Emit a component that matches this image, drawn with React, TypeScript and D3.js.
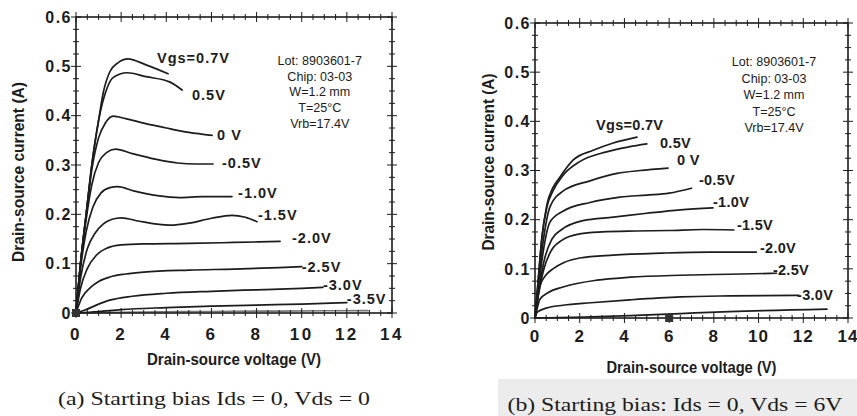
import React from 'react';
import * as d3 from 'd3';

type Pt = [number, number];

const FONT = "'Liberation Sans', Arial, Helvetica, sans-serif";
const SERIF = "'Liberation Serif', 'Times New Roman', serif";
const INK = '#1c1c1c';

// shared axis settings (Vds in V, Ids in A)
const xMajor = [0, 2, 4, 6, 8, 10, 12, 14];
const yMajor = [0, 0.1, 0.2, 0.3, 0.4, 0.5, 0.6];
const yTickLabels = ['0', '0.1', '0.2', '0.3', '0.4', '0.5', '0.6'];
const infoLines = ['Lot: 8903601-7', 'Chip: 03-03', 'W=1.2 mm', 'T=25\u00b0C', 'Vrb=17.4V'];
const curveLabels = ['Vgs=0.7V', '0.5V', '0 V', '-0.5V', '-1.0V', '-1.5V', '-2.0V', '-2.5V', '-3.0V', '-3.5V'];

// (a) starting bias Ids = 0, Vds = 0
const aVgs07: Pt[] = [[0, 0], [0.2, 0.1], [0.45, 0.2], [0.7, 0.3], [1.0, 0.39], [1.2, 0.445], [1.5, 0.489], [1.86, 0.507], [2.3, 0.515], [3.1, 0.503], [4.08, 0.485]];
const aVgs05: Pt[] = [[0, 0], [0.2, 0.1], [0.45, 0.2], [0.7, 0.3], [1.0, 0.39], [1.37, 0.455], [1.64, 0.477], [2.26, 0.487], [3.1, 0.479], [4.17, 0.468], [4.7, 0.452]];
const aVgs0: Pt[] = [[0, 0], [0.2, 0.1], [0.45, 0.2], [0.7, 0.29], [1.0, 0.355], [1.3, 0.385], [1.64, 0.399], [2.2, 0.394], [3.0, 0.385], [4.0, 0.375], [5.0, 0.366], [6.03, 0.36]];
const aVgsM05: Pt[] = [[0, 0], [0.2, 0.1], [0.45, 0.19], [0.7, 0.26], [1.0, 0.305], [1.35, 0.325], [1.75, 0.332], [2.5, 0.323], [3.5, 0.312], [4.5, 0.304], [5.3, 0.302], [6.07, 0.302]];
const aVgsM10: Pt[] = [[0, 0], [0.2, 0.09], [0.45, 0.165], [0.75, 0.215], [1.1, 0.243], [1.5, 0.254], [1.85, 0.256], [2.6, 0.247], [3.6, 0.238], [4.6, 0.234], [5.6, 0.236], [6.91, 0.236]];
const aVgsM15: Pt[] = [[0, 0], [0.2, 0.07], [0.5, 0.13], [0.85, 0.162], [1.2, 0.18], [1.6, 0.19], [2.0, 0.193], [2.8, 0.186], [3.6, 0.18], [4.2, 0.178], [5.0, 0.182], [6.0, 0.192], [6.9, 0.198], [7.5, 0.194], [8.02, 0.185]];
const aVgsM20: Pt[] = [[0, 0], [0.2, 0.05], [0.5, 0.09], [0.9, 0.117], [1.4, 0.132], [2.0, 0.138], [3.0, 0.14], [5.0, 0.141], [7.0, 0.143], [9.04, 0.145]];
const aVgsM25: Pt[] = [[0, 0], [0.25, 0.03], [0.6, 0.05], [1.0, 0.064], [1.5, 0.073], [2.2, 0.079], [3.0, 0.083], [5.0, 0.087], [7.0, 0.089], [9.0, 0.092], [10.0, 0.094]];
const aVgsM30: Pt[] = [[0, 0], [0.4, 0.006], [0.9, 0.016], [1.5, 0.026], [2.5, 0.034], [4.0, 0.04], [6.0, 0.044], [8.0, 0.047], [10.0, 0.05], [10.94, 0.052]];
const aVgsM35: Pt[] = [[0, 0], [1, 0.003], [2, 0.007], [4, 0.011], [6, 0.014], [8, 0.016], [10, 0.018], [12, 0.021]];
const aVgsOff: Pt[] = [[0, 0], [3, 0.002], [6, 0.003], [9, 0.004], [12.94, 0.005]];
const aLabelPos: Pt[] = [[3.59, 0.507], [5.14, 0.432], [6.25, 0.351], [6.47, 0.294], [7.18, 0.233], [8.06, 0.189], [9.57, 0.142], [10.0, 0.083], [10.94, 0.047], [12.0, 0.018]];

// (b) starting bias Ids = 0, Vds = 6V
const bVgs07: Pt[] = [[0, 0], [0.15, 0.08], [0.3, 0.16], [0.53, 0.23], [0.8, 0.265], [1.12, 0.287], [1.7, 0.321], [2.6, 0.341], [3.5, 0.356], [4.56, 0.368]];
const bVgs05: Pt[] = [[0, 0], [0.15, 0.08], [0.3, 0.16], [0.53, 0.225], [0.8, 0.258], [1.25, 0.29], [2.0, 0.318], [3.2, 0.338], [4.2, 0.348], [5.0, 0.354]];
const bVgs0: Pt[] = [[0, 0], [0.15, 0.07], [0.35, 0.15], [0.67, 0.226], [1.25, 0.258], [2.46, 0.279], [3.67, 0.294], [4.7, 0.3], [5.95, 0.305]];
const bVgsM05: Pt[] = [[0, 0], [0.15, 0.06], [0.35, 0.13], [0.67, 0.195], [1.25, 0.217], [2.46, 0.235], [3.8, 0.246], [5.0, 0.25], [6.0, 0.254], [7.0, 0.264]];
const bVgsM10: Pt[] = [[0, 0], [0.15, 0.05], [0.4, 0.115], [0.75, 0.16], [1.2, 0.18], [2.15, 0.198], [3.5, 0.205], [5.0, 0.213], [6.5, 0.22], [7.96, 0.224]];
const bVgsM15: Pt[] = [[0, 0], [0.15, 0.045], [0.4, 0.1], [0.7, 0.135], [1.2, 0.158], [2.0, 0.171], [3.0, 0.175], [4.5, 0.177], [6.0, 0.178], [7.5, 0.18], [8.9, 0.179]];
const bVgsM20: Pt[] = [[0, 0], [0.1, 0.035], [0.22, 0.065], [0.5, 0.088], [0.8, 0.1], [1.3, 0.113], [2.0, 0.122], [3.5, 0.128], [5.7, 0.132], [7.8, 0.134], [9.9, 0.134]];
const bVgsM25: Pt[] = [[0, 0], [0.1, 0.02], [0.22, 0.038], [0.6, 0.052], [1.25, 0.063], [2.77, 0.077], [4.25, 0.083], [6.5, 0.087], [8.7, 0.089], [10.8, 0.091]];
const bVgsM30: Pt[] = [[0, 0], [0.1, 0.012], [0.5, 0.02], [1.25, 0.026], [2.5, 0.031], [4.25, 0.037], [6.5, 0.043], [8.7, 0.045], [11.8, 0.046]];
const bVgsM35: Pt[] = [[0, 0], [2.2, 0.002], [4.25, 0.005], [6.5, 0.009], [8.7, 0.013], [13.06, 0.018]];
const bLabelPos: Pt[] = [[2.73, 0.382], [5.59, 0.346], [6.35, 0.311], [7.33, 0.27], [7.96, 0.226], [9.03, 0.179], [10.06, 0.132], [10.64, 0.087], [11.72, 0.037]];

type PanelProps = {
  l: number; r: number; t: number; b: number;
  curves: Pt[][];
  labelPos: Pt[];
  marker: Pt;
  info: Pt;
  infoGap: number;
  yTitleX: number; yTitleCy: number; yTitleLen: number;
  xTitleY: number; xTitleLen: number;
  labelSpacing: number;
  xLabelSpacing: number;
  xLabelDy: number;
};

function Panel(p: PanelProps) {
  const x = d3.scaleLinear().domain([0, 14]).range([p.l, p.r]);
  const y = d3.scaleLinear().domain([0, 0.6]).range([p.b, p.t]);
  const line = d3.line<Pt>().x(d => x(d[0])).y(d => y(d[1])).curve(d3.curveMonotoneX);

  const xMinor = d3.range(0, 14.001, 0.5);
  const yMinor = d3.range(0, 0.6001, 0.025);
  const isMajorX = (v: number) => Math.abs(v / 2 - Math.round(v / 2)) < 1e-6;
  const isMajorY = (v: number) => Math.abs(v * 10 - Math.round(v * 10)) < 1e-6;

  return (
    <g>
      {/* ticks cross the frame like "+" marks */}
      {xMinor.map(v => {
        const k = isMajorX(v) ? 5 : 3;
        return (
          <g key={'xt' + v} stroke={INK} strokeWidth={1}>
            <line x1={x(v)} x2={x(v)} y1={p.b - k} y2={p.b + k} />
            <line x1={x(v)} x2={x(v)} y1={p.t - k} y2={p.t + k} />
          </g>
        );
      })}
      {yMinor.map(v => {
        const k = isMajorY(v) ? 5 : 3;
        return (
          <g key={'yt' + v} stroke={INK} strokeWidth={1}>
            <line x1={p.l - k} x2={p.l + k} y1={y(v)} y2={y(v)} />
            <line x1={p.r - k} x2={p.r + k} y1={y(v)} y2={y(v)} />
          </g>
        );
      })}
      <rect x={p.l} y={p.t} width={p.r - p.l} height={p.b - p.t} fill="none" stroke={INK} strokeWidth={1.6} />

      {xMajor.map(v => (
        <text key={'xl' + v} x={x(v)} y={p.b + p.xLabelDy} textAnchor="middle" fontFamily={FONT}
          fontWeight="bold" fontSize={17} letterSpacing={p.xLabelSpacing} fill={INK}>{v}</text>
      ))}
      {yMajor.map((v, i) => (
        <text key={'yl' + v} x={p.l - 4} y={y(v)} dy="0.36em" textAnchor="end" fontFamily={FONT}
          fontWeight="bold" fontSize={16} letterSpacing={1.5} fill={INK}>{yTickLabels[i]}</text>
      ))}

      {p.curves.map((c, i) => (
        <path key={'c' + i} d={line(c) || ''} fill="none" stroke={INK} strokeWidth={1.7}
          strokeLinejoin="round" strokeLinecap="round" opacity={i === 10 ? 0.6 : 1} />
      ))}
      {p.labelPos.map((pos, i) => (
        <text key={'lb' + i} x={x(pos[0])} y={y(pos[1])} fontFamily={FONT} fontWeight="bold"
          fontSize={14.5} letterSpacing={p.labelSpacing} fill={INK}>{curveLabels[i]}</text>
      ))}

      <rect x={x(p.marker[0]) - 4} y={y(p.marker[1]) - 4} width={8} height={8} fill="#333" />

      {infoLines.map((s, i) => (
        <text key={'in' + i} transform={`translate(${x(p.info[0])},${y(p.info[1]) + i * p.infoGap}) scale(0.93,1)`}
          textAnchor="middle" fontFamily={FONT} fontSize={13.5} fill={INK}>{s}</text>
      ))}

      <text x={(p.l + p.r) / 2} y={p.xTitleY} textAnchor="middle" fontFamily={FONT}
        fontWeight="bold" fontSize={16} fill={INK} textLength={p.xTitleLen}
        lengthAdjust="spacingAndGlyphs">Drain-source voltage (V)</text>
      <g transform={`translate(${p.yTitleX},${p.yTitleCy}) rotate(-90)`}>
        <text x={-p.yTitleLen / 2} y={0} dy="0.35em" fontFamily={FONT} fontWeight="bold" fontSize={16}
          fill={INK} textLength={p.yTitleLen} lengthAdjust="spacingAndGlyphs">Drain-source current (A)</text>
      </g>
    </g>
  );
}

export default function App() {
  return (
    <svg width={857} height={416} style={{ position: 'absolute', left: 0, top: 0, background: '#fff' }}>
      <rect x={498} y={379} width={359} height={37} fill="#ececec" />
      <Panel l={76} r={392} t={17} b={313}
        curves={[aVgs07, aVgs05, aVgs0, aVgsM05, aVgsM10, aVgsM15, aVgsM20, aVgsM25, aVgsM30, aVgsM35, aVgsOff]}
        labelPos={aLabelPos} marker={[0, 0]} info={[10.8, 0.503]} infoGap={15.8}
        yTitleX={18} yTitleCy={172} yTitleLen={180} xTitleY={365} xTitleLen={174}
        labelSpacing={1} xLabelSpacing={2.5} xLabelDy={27} />
      <Panel l={535} r={848} t={23} b={318}
        curves={[bVgs07, bVgs05, bVgs0, bVgsM05, bVgsM10, bVgsM15, bVgsM20, bVgsM25, bVgsM30, bVgsM35]}
        labelPos={bLabelPos} marker={[6, 0]} info={[10.69, 0.512]} infoGap={16.5}
        yTitleX={488} yTitleCy={162} yTitleLen={177} xTitleY={373} xTitleLen={170}
        labelSpacing={0.3} xLabelSpacing={1} xLabelDy={24} />
      <text x={214} y={405} textAnchor="middle" fontFamily={SERIF} fontSize={19} fill={INK}
        textLength={312} lengthAdjust="spacingAndGlyphs">(a) Starting bias Ids = 0, Vds = 0</text>
      <text x={675} y={411} textAnchor="middle" fontFamily={SERIF} fontSize={19} fill={INK}
        textLength={335} lengthAdjust="spacingAndGlyphs">(b) Starting bias: Ids = 0, Vds = 6V</text>
    </svg>
  );
}
